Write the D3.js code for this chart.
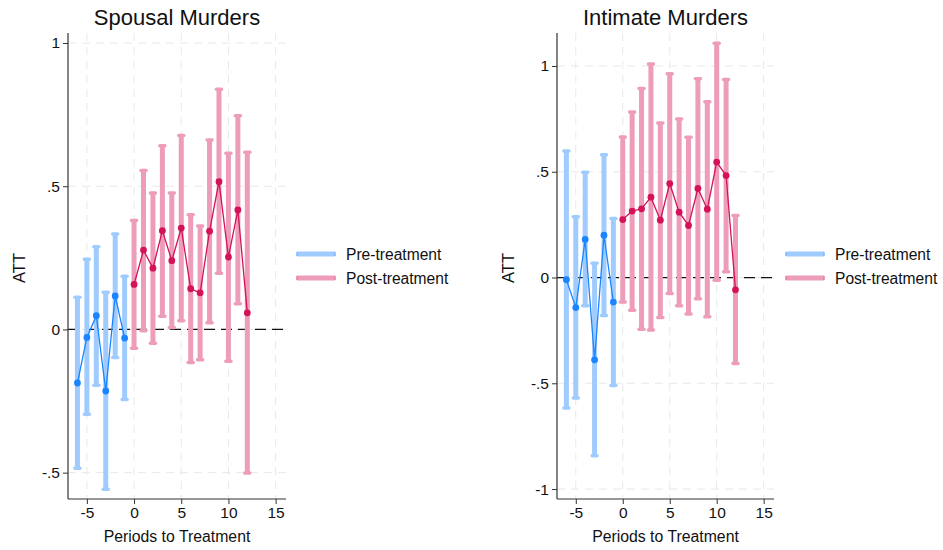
<!DOCTYPE html>
<html>
<head>
<meta charset="utf-8">
<script src="https://cdn.jsdelivr.net/npm/d3@7"></script>
<style>
  body { margin: 0; background: #fff; }
  svg { font-family: Arial, "Liberation Sans", sans-serif; }
</style>
</head>
<body>
<svg width="943" height="550"></svg>
<script>
// periods to treatment
const prePeriods = [-6, -5, -4, -3, -2, -1];
const postPeriods = [0, 1, 2, 3, 4, 5, 6, 7, 8, 9, 10, 11, 12];

// Spousal murders: estimate, lower, upper
const spousalPreEst = [-0.187, -0.028, 0.048, -0.215, 0.117, -0.030];
const spousalPreLo  = [-0.485, -0.296, -0.195, -0.558, -0.098, -0.245];
const spousalPreHi  = [0.112, 0.245, 0.289, 0.130, 0.333, 0.186];
const spousalPostEst = [0.157, 0.277, 0.214, 0.345, 0.240, 0.354, 0.142, 0.128, 0.343, 0.516, 0.253, 0.417, 0.058];
const spousalPostLo  = [-0.066, -0.005, -0.048, 0.046, 0.007, 0.030, -0.115, -0.106, 0.023, 0.196, -0.111, 0.090, -0.501];
const spousalPostHi  = [0.380, 0.555, 0.476, 0.641, 0.476, 0.677, 0.400, 0.361, 0.661, 0.839, 0.615, 0.746, 0.619];

// Intimate murders
const intimatePreEst = [-0.010, -0.142, 0.180, -0.389, 0.200, -0.116];
const intimatePreLo  = [-0.617, -0.570, -0.134, -0.842, -0.180, -0.510];
const intimatePreHi  = [0.598, 0.287, 0.498, 0.067, 0.581, 0.279];
const intimatePostEst = [0.274, 0.314, 0.325, 0.380, 0.271, 0.444, 0.309, 0.246, 0.421, 0.323, 0.546, 0.482, -0.058];
const intimatePostLo  = [-0.116, -0.155, -0.245, -0.248, -0.189, -0.075, -0.133, -0.172, -0.100, -0.185, -0.013, 0.027, -0.407];
const intimatePostHi  = [0.664, 0.782, 0.894, 1.010, 0.730, 0.963, 0.749, 0.663, 0.940, 0.831, 1.108, 0.936, 0.293];

const xTicks = [-5, 0, 5, 10, 15];
const spousalYTicks = [-0.5, 0, 0.5, 1];
const intimateYTicks = [-1, -0.5, 0, 0.5, 1];
const legendLabels = ["Pre-treatment", "Post-treatment"];

const colPre = "#1a85ff", colPost = "#d41159";
const barPre = "#9fcbff", barPost = "#ed9cba";

const svg = d3.select("svg");

function fmt(v) {
  if (v === 0) return "0";
  if (Number.isInteger(v)) return String(v);
  return String(v).replace("0.", ".");
}

function makeSeries(periods, est, lo, hi) {
  return periods.map((p, i) => ({ p: p, est: est[i], lo: lo[i], hi: hi[i] }));
}

function drawPanel(opts) {
  const g = svg.append("g");
  const x = d3.scaleLinear().domain([-7, 16.1]).range([opts.left, opts.right]);
  const y = d3.scaleLinear().domain(opts.yDomain).range([opts.bottom, opts.top]);

  // grid
  g.append("g").selectAll("line.gy").data(opts.yTicks).enter().append("line")
      .attr("x1", opts.left).attr("x2", opts.right)
      .attr("y1", d => y(d)).attr("y2", d => y(d))
      .attr("stroke", "#e8e8e8").attr("stroke-width", 1)
      .attr("stroke-dasharray", "8,6");
  g.append("g").selectAll("line.gx").data(xTicks).enter().append("line")
      .attr("x1", d => x(d)).attr("x2", d => x(d))
      .attr("y1", opts.top).attr("y2", opts.bottom)
      .attr("stroke", "#e8e8e8").attr("stroke-width", 1)
      .attr("stroke-dasharray", "8,6");

  // zero reference line
  g.append("line")
      .attr("x1", opts.left).attr("x2", opts.right)
      .attr("y1", y(0)).attr("y2", y(0))
      .attr("stroke", "#111").attr("stroke-width", 1.3)
      .attr("stroke-dasharray", "11,6");

  const groups = [
    { data: opts.pre, bar: barPre, col: colPre },
    { data: opts.post, bar: barPost, col: colPost }
  ];

  groups.forEach(s => {
    const cg = g.append("g");
    cg.selectAll("line.bar").data(s.data).enter().append("line")
        .attr("x1", d => x(d.p)).attr("x2", d => x(d.p))
        .attr("y1", d => y(d.lo)).attr("y2", d => y(d.hi))
        .attr("stroke", s.bar).attr("stroke-width", 5);
    ["lo", "hi"].forEach(k => {
      cg.selectAll("line.cap" + k).data(s.data).enter().append("line")
          .attr("x1", d => x(d.p) - 2.5).attr("x2", d => x(d.p) + 2.5)
          .attr("y1", d => y(d[k])).attr("y2", d => y(d[k]))
          .attr("stroke", s.bar).attr("stroke-width", 3.5)
          .attr("stroke-linecap", "round");
    });
  });

  groups.forEach(s => {
    g.append("path").datum(s.data)
        .attr("fill", "none").attr("stroke", s.col).attr("stroke-width", 1.3)
        .attr("d", d3.line().x(d => x(d.p)).y(d => y(d.est)));
    g.selectAll(null).data(s.data).enter().append("circle")
        .attr("cx", d => x(d.p)).attr("cy", d => y(d.est)).attr("r", 3.4)
        .attr("fill", s.col);
  });

  // axes
  const yAxis = g.append("g").attr("transform", `translate(${opts.left},0)`)
      .call(d3.axisLeft(y).tickValues(opts.yTicks).tickFormat(fmt).tickSize(5).tickPadding(3));
  const xAxis = g.append("g").attr("transform", `translate(0,${opts.bottom})`)
      .call(d3.axisBottom(x).tickValues(xTicks).tickFormat(fmt).tickSize(5).tickPadding(3));
  [yAxis, xAxis].forEach(a => {
    a.select(".domain").attr("stroke", "#333").attr("stroke-width", 1.2);
    a.selectAll(".tick line").attr("stroke", "#333");
    a.selectAll(".tick text").attr("font-size", 15.5).attr("fill", "#111")
        .attr("font-family", "Arial, 'Liberation Sans', sans-serif");
  });
  xAxis.select(".domain").attr("d", `M${opts.left},0H${opts.right}`);
  yAxis.select(".domain").attr("d", `M0,${opts.bottom}V${opts.top}`);

  // titles
  const cx = (opts.left + opts.right) / 2;
  g.append("text").attr("x", cx).attr("y", 25).attr("text-anchor", "middle")
      .attr("font-size", 22).attr("fill", "#111").text(opts.title);
  g.append("text").attr("x", cx).attr("y", 542).attr("text-anchor", "middle")
      .attr("font-size", 15.8).attr("fill", "#111").text("Periods to Treatment");
  g.append("text").attr("transform", `translate(${opts.left - 43},${(opts.top + opts.bottom) / 2 + 2}) rotate(-90)`)
      .attr("text-anchor", "middle").attr("font-size", 16.5).attr("fill", "#111").text("ATT");

  // legend
  const lg = g.append("g").attr("transform", `translate(${opts.legendX},254)`);
  [barPre, barPost].forEach((c, i) => {
    const ly = i * 24;
    lg.append("line").attr("x1", 0).attr("x2", 38).attr("y1", ly).attr("y2", ly)
        .attr("stroke", c).attr("stroke-width", 5);
    [0, 38].forEach(ex => lg.append("line").attr("x1", ex).attr("x2", ex)
        .attr("y1", ly - 2).attr("y2", ly + 2)
        .attr("stroke", i === 0 ? "#7fb8ff" : "#e57fa5").attr("stroke-width", 1.5));
    lg.append("text").attr("x", 49).attr("y", ly + 5.5).attr("font-size", 15.6)
        .attr("fill", "#111").text(legendLabels[i]);
  });
}

drawPanel({
  title: "Spousal Murders",
  left: 68, right: 286, top: 33, bottom: 499,
  yDomain: [-0.592, 1.035], yTicks: spousalYTicks,
  pre: makeSeries(prePeriods, spousalPreEst, spousalPreLo, spousalPreHi),
  post: makeSeries(postPeriods, spousalPostEst, spousalPostLo, spousalPostHi),
  legendX: 297
});

drawPanel({
  title: "Intimate Murders",
  left: 557, right: 774, top: 33, bottom: 499,
  yDomain: [-1.047, 1.156], yTicks: intimateYTicks,
  pre: makeSeries(prePeriods, intimatePreEst, intimatePreLo, intimatePreHi),
  post: makeSeries(postPeriods, intimatePostEst, intimatePostLo, intimatePostHi),
  legendX: 786
});
</script>
</body>
</html>
